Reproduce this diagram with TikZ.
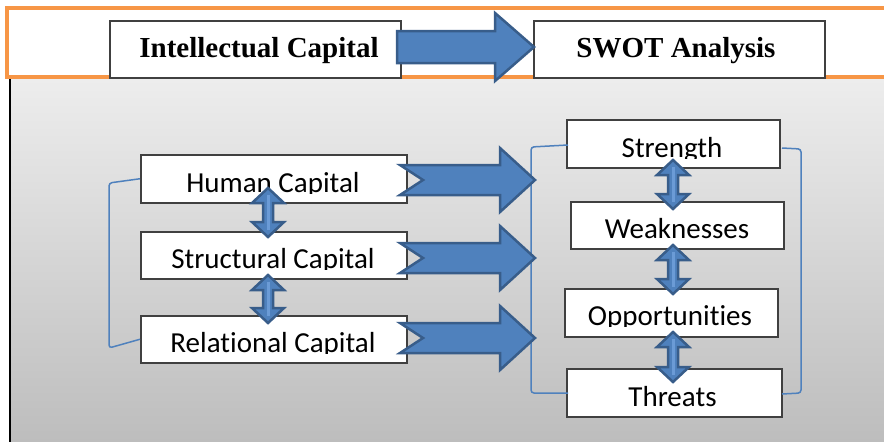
\documentclass[tikz,border=0pt]{standalone}
\usepackage{fontspec}
\setmainfont{Liberation Serif}
\newfontfamily\carlito[Ligatures={NoCommon}]{Carlito}
\definecolor{orng}{HTML}{F79646}
\definecolor{blu}{HTML}{4F81BD}
\definecolor{bluedge}{HTML}{385D8A}
\definecolor{bluhi}{HTML}{6B9BD6}
\definecolor{boxedge}{HTML}{404040}
\definecolor{pnltop}{HTML}{EDEDED}
\definecolor{pnlbot}{HTML}{BDBDBD}
\begin{document}
\begin{tikzpicture}[x=1pt,y=-1pt,
  box/.style={draw=boxedge, line width=1.5pt, fill=white, anchor=north west, inner sep=0pt},
  blk/.style={fill=blu, draw=bluedge, line width=2.5pt, line join=miter},
  brk/.style={draw=blu, line width=1.5pt, rounded corners=3pt},
  lbl/.style={font=\carlito\fontsize{29}{31}\selectfont, anchor=base, inner sep=0pt},
  ttl/.style={font=\bfseries\fontsize{29}{32}\selectfont, anchor=base, inner sep=0pt}]
\useasboundingbox (0,0) rectangle (884,442);
\clip (0,0) rectangle (884,442);
% background panel
\shade[top color=pnltop, bottom color=pnlbot] (10,79) rectangle (890,442);
\draw[black, line width=1.5pt] (10,79) -- (10,445);
% orange frame
\fill[white] (7,8) rectangle (900,77);
\draw[orng, line width=4pt] (7,8) rectangle (900,77);
% top boxes
\node[box, minimum width=291pt, minimum height=57pt] (ic) at (109,20) {};
\node[box, minimum width=291pt, minimum height=57pt] (sw) at (533,20) {};
\node[ttl] (ict) at (259,57) {Intellectual Capital};
\node[ttl] (swt) at (676,57) {SWOT Analysis};
% left boxes
\node[box, minimum width=266pt, minimum height=48pt] (hc) at (140,154) {};
\node[box, minimum width=266pt, minimum height=47pt] (sc) at (140,231) {};
\node[box, minimum width=266pt, minimum height=47pt] (rc) at (140,315) {};
% right boxes
\node[box, minimum width=213pt, minimum height=48pt] (st) at (566,119) {};
\node[box, minimum width=213pt, minimum height=47pt] (wk) at (570,201) {};
\node[box, minimum width=213pt, minimum height=48pt] (op) at (564,288) {};
\node[box, minimum width=215pt, minimum height=48pt] (th) at (566,368) {};
% clipped labels
\begin{scope}\clip (140,154) rectangle (406,193);
\node[lbl] (hcl) at (273,192) {Human Capital};\end{scope}
\begin{scope}\clip (140,231) rectangle (406,269);
\node[lbl] (scl) at (273,268) {Structural Capital};\end{scope}
\begin{scope}\clip (140,315) rectangle (406,353);
\node[lbl] (rcl) at (273,352) {Relational Capital};\end{scope}
\begin{scope}\clip (566,119) rectangle (779,158);
\node[lbl] (stl) at (672,157) {Strength};\end{scope}
\begin{scope}\clip (570,201) rectangle (783,239);
\node[lbl] (wkl) at (677,238) {Weaknesses};\end{scope}
\begin{scope}\clip (564,288) rectangle (777,326);
\node[lbl] (opl) at (670,325) {Opportunities};\end{scope}
\node[lbl] (thl) at (672.5,406) {Threats};
% brackets
\draw[brk] (hc.west) -- (109,183) -- (109,348) -- (rc.west);
\draw[brk] (568,145) -- (531,147) -- (531,393) -- (568,393);
\draw[brk] (782,148) -- (801,149) -- (801,393) -- (782,394);
% top block arrow
\draw[blk] (397,31) -- (495,31) -- (495,13) -- (534,47) -- (495,81) -- (495,63) -- (397,63) -- cycle;
% right block arrows
\foreach \c in {180,258,338}
  \draw[blk] (400,{\c-15}) -- (500,{\c-15}) -- (500,{\c-32}) -- (535,\c) -- (500,{\c+32}) -- (500,{\c+15}) -- (400,{\c+15}) -- (423,\c) -- cycle;
% vertical double arrows
\foreach \cx/\ya/\yb in {268/188/237, 268/275/323, 673/160/209, 673/245/294, 673/332/382}
  {\draw[blk] (\cx,\ya) -- ({\cx+16},{\ya+15}) -- ({\cx+5},{\ya+15}) -- ({\cx+5},{\yb-15}) -- ({\cx+16},{\yb-15}) -- (\cx,\yb) -- ({\cx-16},{\yb-15}) -- ({\cx-5},{\yb-15}) -- ({\cx-5},{\ya+15}) -- ({\cx-16},{\ya+15}) -- cycle;
   \draw[bluhi, line width=3pt] (\cx,{\ya+7}) -- (\cx,{\yb-7});}
\end{tikzpicture}
\end{document}
